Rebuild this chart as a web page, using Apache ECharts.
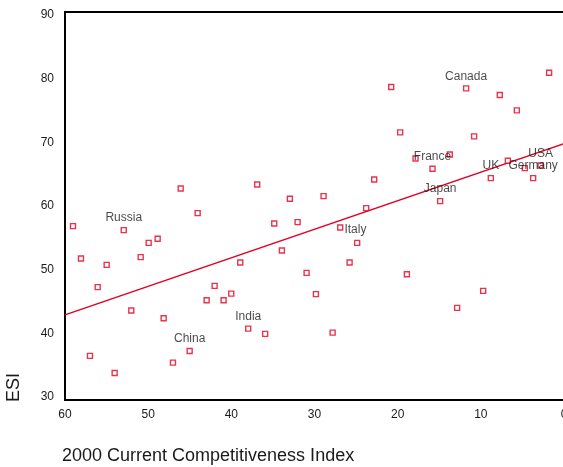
<!DOCTYPE html>
<html>
<head>
<meta charset="utf-8">
<script src="https://cdn.jsdelivr.net/npm/echarts@6/dist/echarts.min.js"></script>
<style>
  html, body { margin: 0; padding: 0; background: #fff; }
  #chart { width: 563px; height: 467px; }
</style>
</head>
<body>
<div id="chart"></div>
<script>
// 2000 Current Competitiveness Index rank (x) vs Environmental Sustainability Index (y)
const cci = [
  59.04, 58.08, 56.07, 57.00, 54.99, 54.03, 52.94, 52.03, 50.90, 49.94,
  48.86, 48.14, 47.02, 46.09, 45.01, 44.05, 42.97, 42.01, 40.93, 40.01,
  38.93, 37.97, 36.89, 35.93, 34.84, 33.92, 32.96, 32.03, 30.95, 29.83,
  28.91, 27.82, 26.91, 25.78, 24.87, 23.79, 22.82, 20.78, 19.70, 18.89,
  17.85, 15.81, 14.89, 13.73, 12.85, 11.77, 10.81, 9.72, 8.80, 7.72,
  6.75, 5.67, 4.71, 3.71, 2.82, 1.79
];
const esi = [
  56.84, 51.74, 47.24, 36.43, 50.75, 33.75, 56.21, 43.56, 51.96, 54.21,
  54.84, 42.36, 35.37, 62.75, 37.21, 58.88, 45.19, 47.44, 45.19, 46.23,
  51.11, 40.72, 63.38, 39.89, 57.25, 53.00, 61.13, 57.47, 49.49, 46.14,
  61.56, 40.09, 56.62, 51.11, 54.21, 59.67, 64.17, 78.71, 71.57, 49.28,
  67.47, 65.85, 60.77, 68.10, 43.98, 78.49, 70.94, 46.66, 64.39, 77.45,
  67.11, 75.03, 65.96, 64.39, 66.37, 80.96
];
// country labels keyed by point index
const countryLabels = {
  6: 'Russia', 14: 'China', 21: 'India', 32: 'Italy', 41: 'France',
  42: 'Japan', 45: 'Canada', 48: 'UK', 53: 'Germany', 54: 'USA'
};
const rightLabelled = ['Italy'];

// fitted line end points
const fitX = [60, 0];
const fitY = [42.88, 69.80];

const yTicks = [30, 40, 50, 60, 70, 80, 90];
const xTicks = [60, 50, 40, 30, 20, 10, 0];

const RED = '#e2001f';
const TEXT = '#1a1a1a';
const FONT = 'Liberation Sans, Arial, sans-serif';

const points = cci.map((x, i) => {
  const item = { value: [x, esi[i]] };
  const name = countryLabels[i];
  if (name) {
    const right = rightLabelled.includes(name);
    item.label = {
      show: true,
      formatter: name,
      position: right ? 'right' : 'top',
      distance: right ? 1 : 3,
      offset: right ? [0, 2] : [0, 0],
      color: TEXT,
      fontSize: 12,
      fontFamily: FONT
    };
  }
  return item;
});

const chart = echarts.init(document.getElementById('chart'), null, { renderer: 'canvas' });
chart.setOption({
  animation: false,
  backgroundColor: '#fff',
  grid: {
    left: 65, top: 12, width: 499, height: 388,
    show: true, borderColor: '#000', borderWidth: 2, backgroundColor: 'transparent',
    outerBoundsMode: 'none'
  },
  xAxis: {
    type: 'value', min: 0, max: 60, inverse: true,
    splitLine: { show: false },
    axisTick: { show: false },
    axisLine: { show: true, onZero: false, lineStyle: { color: '#000', width: 2 } },
    axisLabel: {
      customValues: xTicks, margin: 9,
      color: TEXT, fontSize: 12, fontFamily: FONT
    }
  },
  yAxis: {
    type: 'value', min: 29.5, max: 90.5,
    splitLine: { show: false },
    axisTick: { show: false },
    axisLine: { show: true, onZero: false, lineStyle: { color: '#000', width: 2 } },
    axisLabel: {
      customValues: yTicks, margin: 11,
      color: TEXT, fontSize: 12, fontFamily: FONT
    }
  },
  graphic: [
    {
      type: 'text', left: 62, top: 447,
      style: {
        text: '2000 Current Competitiveness Index',
        fill: TEXT, font: '18px "Liberation Sans", Arial, sans-serif'
      }
    },
    {
      type: 'text', x: 5, y: 402, rotation: Math.PI / 2,
      style: {
        text: 'ESI',
        fill: TEXT, font: '18px "Liberation Sans", Arial, sans-serif'
      }
    }
  ],
  series: [
    {
      type: 'line',
      data: fitX.map((x, i) => [x, fitY[i]]),
      showSymbol: false,
      lineStyle: { color: RED, width: 1.5 },
      silent: true,
      z: 1
    },
    {
      type: 'scatter',
      data: points,
      symbol: 'rect',
      symbolSize: 5,
      itemStyle: { color: '#fff', borderColor: RED, borderWidth: 1.4 },
      z: 2
    }
  ]
});
</script>
</body>
</html>
